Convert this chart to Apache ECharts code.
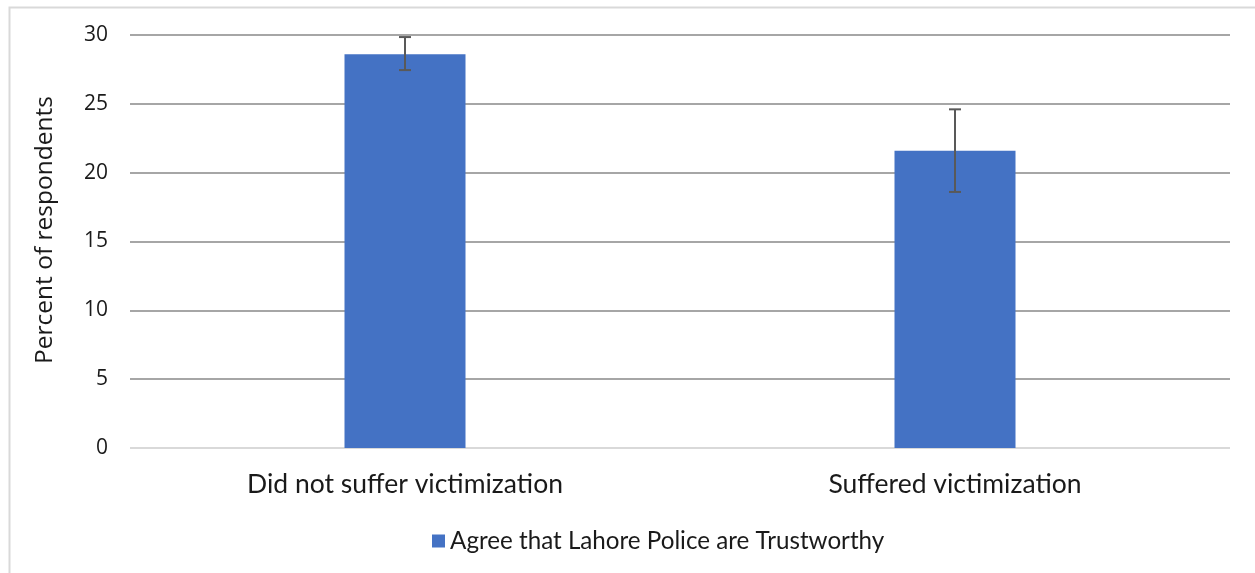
<!DOCTYPE html>
<html>
<head>
<meta charset="utf-8">
<script src="https://cdn.jsdelivr.net/npm/echarts@6/dist/echarts.min.js"></script>
<style>html,body{margin:0;padding:0;background:#fff}#c{width:1255px;height:573px}</style>
</head>
<body>
<div id="c"></div>
<script>
const categories = ['Did not suffer victimization', 'Suffered victimization'];
const values = [28.6, 21.6];
const errLow = [27.45, 18.6];
const errHigh = [29.85, 24.6];
const yTicks = [0, 5, 10, 15, 20, 25, 30];
const seriesName = 'Agree that Lahore Police are Trustworthy';
const yTitle = 'Percent of respondents';

const chart = echarts.init(document.getElementById('c'), null, {renderer: 'canvas'});
const gridColors = yTicks.map((t, i) => i === 0 ? '#d9d9d9' : '#a6a6a6');
chart.setOption({
  animation: false,
  backgroundColor: '#fff',
  graphic: [
    {type: 'rect', left: 7, top: 5, shape: {width: 1255, height: 600}, style: {fill: 'none', stroke: '#d9d9d9', lineWidth: 2}, z: -1},
    {type: 'text', x: 45, y: 230, rotation: Math.PI / 2,
     style: {text: yTitle, fontFamily: 'Open Sans', fontSize: 24.5, fill: '#1a1a1a', textAlign: 'center', textVerticalAlign: 'middle'}}
  ],
  grid: {left: 130, right: 25, top: 35, bottom: 125},
  legend: {
    left: 427, top: 524, itemWidth: 13, itemHeight: 13, icon: 'rect', itemGap: 10,
    textStyle: {fontFamily: 'Lato', fontSize: 24.2, color: '#1a1a1a'},
    data: [seriesName]
  },
  xAxis: {
    type: 'category', data: categories,
    axisLine: {show: false}, axisTick: {show: false},
    axisLabel: {fontFamily: 'Lato', fontSize: 26.5, color: '#1a1a1a', margin: 23}
  },
  yAxis: {
    type: 'value', min: 0, max: 30, interval: 5,
    axisLine: {show: false}, axisTick: {show: false},
    axisLabel: {fontFamily: 'Open Sans', fontSize: 21, color: '#1a1a1a', margin: 22},
    splitLine: {lineStyle: {color: gridColors, width: 2}}
  },
  series: [
    {
      name: seriesName, type: 'bar', data: values, barWidth: '22%',
      itemStyle: {color: '#4472c4'}
    },
    {
      type: 'custom', name: 'err', silent: true, z: 5,
      data: categories.map((c, i) => [i, errLow[i], errHigh[i]]),
      renderItem: function (params, api) {
        const lo = api.coord([api.value(0), api.value(1)]);
        const hi = api.coord([api.value(0), api.value(2)]);
        const hw = 6;
        const st = {stroke: '#595959', lineWidth: 2};
        return {type: 'group', children: [
          {type: 'line', shape: {x1: lo[0], y1: lo[1], x2: hi[0], y2: hi[1]}, style: st},
          {type: 'line', shape: {x1: lo[0] - hw, y1: lo[1], x2: lo[0] + hw, y2: lo[1]}, style: st},
          {type: 'line', shape: {x1: hi[0] - hw, y1: hi[1], x2: hi[0] + hw, y2: hi[1]}, style: st}
        ]};
      }
    }
  ]
});
</script>
</body>
</html>
